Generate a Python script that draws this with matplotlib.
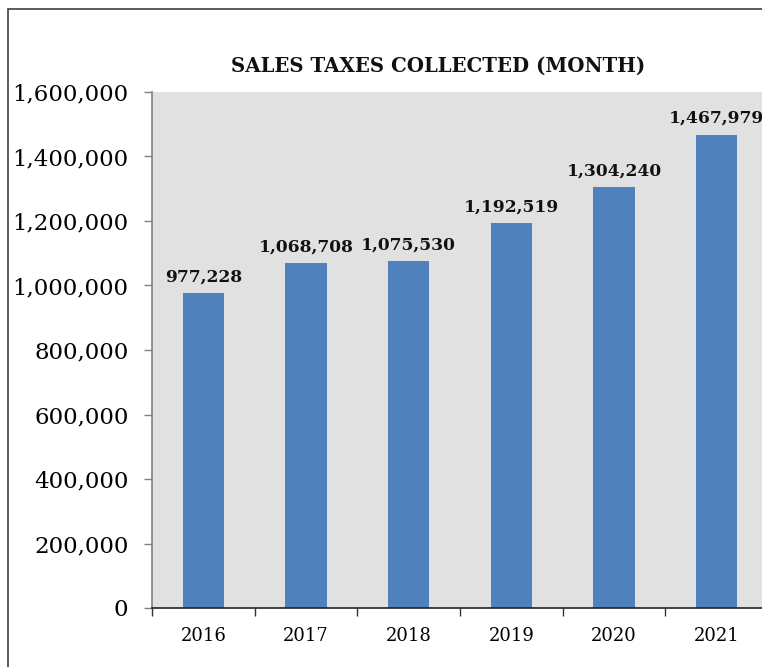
import matplotlib.pyplot as plt
from matplotlib.patches import Rectangle
from matplotlib.ticker import FuncFormatter

years = ["2016", "2017", "2018", "2019", "2020", "2021"]
sales_tax = [977228, 1068708, 1075530, 1192519, 1304240, 1467979]

plt.rcParams['font.family'] = ['DejaVu Serif']

fig = plt.figure(figsize=(7.62, 6.67), dpi=100)

# outer frame of the chart (cut off on the right and bottom)
fig.patches.append(Rectangle((8 / 762, -0.1), 1.2, (667 - 9) / 667 + 0.1,
                             transform=fig.transFigure, fill=False,
                             edgecolor="#404040", linewidth=1.2))

ax = fig.add_axes([152 / 762, 59 / 667, 616 / 762, 516 / 667])
ax.set_facecolor("#E1E1E1")

x = list(range(len(years)))
bars = ax.bar(x, sales_tax, width=0.4, color="#4F81BD", zorder=2)

for xi, v in zip(x, sales_tax):
    ax.text(xi, v + 24000, f"{v:,}", ha="center", va="bottom",
            fontsize=12.3, fontweight="bold", color="#111111")

ax.set_xlim(-0.5, len(years) - 0.5)
ax.set_ylim(0, 1600000)
ax.set_yticks(range(0, 1600001, 200000))
ax.yaxis.set_major_formatter(FuncFormatter(lambda v, p: f"{int(v):,}"))
ax.tick_params(axis="y", length=6, width=1, color="#808080", pad=11,
               labelsize=16.5, direction="out")

ax.set_xticks([i - 0.5 for i in x] + [len(years) - 0.5])
ax.set_xticklabels([])
ax.set_xticks(x, minor=True)
ax.set_xticklabels(years, minor=True)
ax.tick_params(axis="x", which="major", length=6, width=1, color="#333333")
ax.tick_params(axis="x", which="minor", length=0, pad=14, labelsize=13)

for s in ["top", "right"]:
    ax.spines[s].set_visible(False)
ax.spines["left"].set_color("#808080")
ax.spines["left"].set_linewidth(1.2)
ax.spines["bottom"].set_color("#222222")
ax.spines["bottom"].set_linewidth(1.2)

fig.text(0.575, 1 - 66 / 667, "SALES TAXES COLLECTED (MONTH)", ha="center",
         va="center", fontsize=14.2, fontweight="bold", color="#111111")

fig.savefig("out.png", dpi=100)
